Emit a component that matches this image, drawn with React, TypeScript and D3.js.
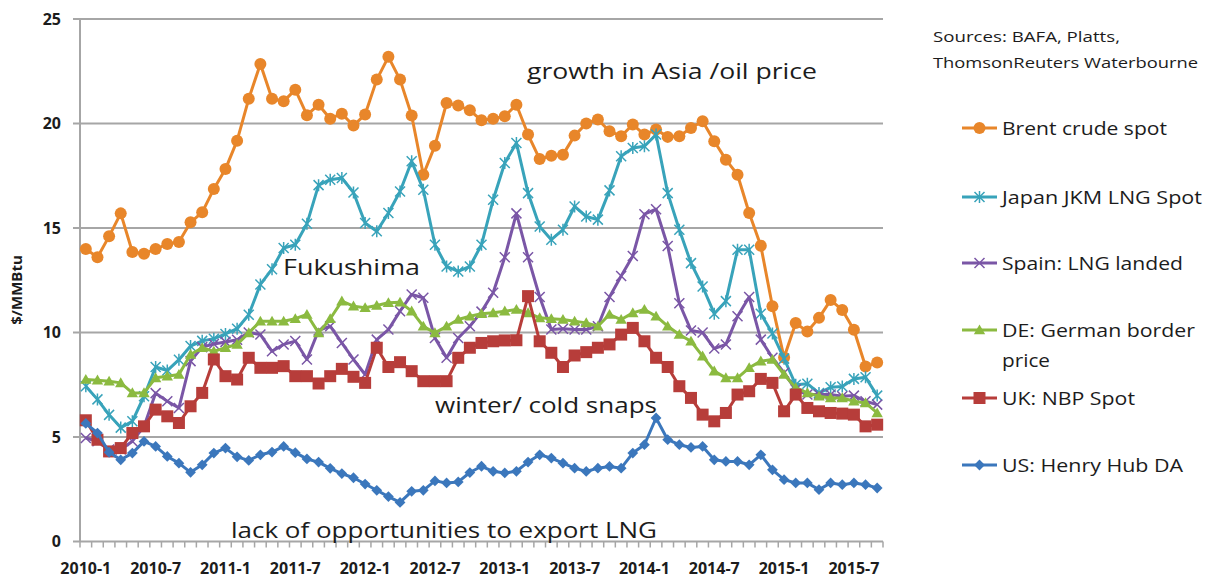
import React from 'react';
import * as d3 from 'd3';

// monthly categories 2010-1 .. 2015-9
const years = [2010, 2011, 2012, 2013, 2014, 2015];
const months: string[] = years.flatMap(yr => d3.range(1, 13).map(m => `${yr}-${m}`)).slice(0, 69);
const tickLabels = ['2010-1', '2010-7', '2011-1', '2011-7', '2012-1', '2012-7', '2013-1', '2013-7', '2014-1', '2014-7', '2015-1', '2015-7'];
const yTicks = [0, 5, 10, 15, 20, 25];

const brent = [14.0, 13.6, 14.6, 15.7, 13.85, 13.77, 13.99, 14.23, 14.33, 15.27,
  15.75, 16.87, 17.82, 19.18, 21.18, 22.85, 21.18, 21.06, 21.62, 20.4,
  20.9, 20.23, 20.47, 19.9, 20.43, 22.1, 23.19, 22.1, 20.38, 17.55,
  18.94, 20.98, 20.86, 20.63, 20.15, 20.23, 20.35, 20.9, 19.47, 18.3,
  18.46, 18.51, 19.42, 20.0, 20.19, 19.63, 19.39, 19.95, 19.47, 19.71,
  19.36, 19.39, 19.79, 20.11, 19.15, 18.27, 17.55, 15.72, 14.15, 11.26,
  8.8, 10.45, 10.05, 10.7, 11.55, 11.08, 10.13, 8.37, 8.56];

const jkm = [7.43, 6.8, 6.06, 5.45, 5.75, 6.95, 8.35, 8.18, 8.7, 9.35,
  9.6, 9.7, 9.93, 10.18, 10.85, 12.3, 13.03, 14.04, 14.2, 15.2,
  17.05, 17.31, 17.39, 16.7, 15.24, 14.84, 15.72, 16.75, 18.19, 16.83,
  14.2, 13.16, 12.92, 13.16, 14.2, 16.35, 18.11, 19.07, 16.67, 15.07,
  14.44, 14.92, 16.03, 15.55, 15.4, 16.8, 18.43, 18.83, 18.91, 19.47,
  16.67, 14.92, 13.32, 12.2, 10.9, 11.5, 13.96, 13.96, 10.9, 9.95,
  8.75, 7.5, 7.55, 7.1, 7.38, 7.42, 7.78, 7.86, 6.98];

const spain = [4.95, 4.8, 4.4, 4.4, 4.8, 5.5, 7.1, 6.71, 6.39, 8.63,
  9.3, 9.45, 9.55, 9.65, 10.0, 9.9, 9.1, 9.43, 9.59, 8.71,
  10.1, 10.3, 9.5, 8.71, 7.99, 9.66, 10.14, 11.02, 11.82, 11.66,
  9.74, 8.79, 9.74, 10.3, 11.0, 11.9, 13.6, 15.7, 13.6, 11.7,
  10.14, 10.18, 10.14, 10.14, 10.3, 11.7, 12.7, 13.66, 15.66, 15.9,
  14.14, 11.4, 10.1, 10.0, 9.23, 9.43, 10.78, 11.7, 9.66, 8.79,
  8.07, 7.27, 7.03, 7.03, 7.03, 6.95, 6.98, 6.71, 6.55];

const german = [7.75, 7.72, 7.67, 7.59, 7.11, 7.11, 7.83, 7.91, 7.99, 8.95,
  9.27, 9.1, 9.27, 9.43, 9.98, 10.54, 10.54, 10.54, 10.66, 10.86,
  9.98, 10.66, 11.5, 11.26, 11.18, 11.29, 11.42, 11.45, 11.02, 10.3,
  9.98, 10.3, 10.62, 10.78, 10.9, 10.94, 11.02, 11.1, 10.94, 10.7,
  10.66, 10.62, 10.54, 10.46, 10.3, 10.86, 10.62, 10.94, 11.1, 10.78,
  10.3, 9.9, 9.58, 8.87, 8.15, 7.83, 7.83, 8.31, 8.63, 8.71,
  7.99, 7.35, 7.11, 6.95, 6.87, 6.87, 6.71, 6.63, 6.15];

const uk = [5.8, 4.87, 4.31, 4.47, 5.19, 5.51, 6.31, 5.99, 5.67, 6.47,
  7.11, 8.71, 7.91, 7.75, 8.79, 8.31, 8.31, 8.39, 7.91, 7.91,
  7.56, 7.91, 8.26, 7.88, 7.59, 9.27, 8.35, 8.58, 8.15, 7.67,
  7.67, 7.67, 8.79, 9.27, 9.5, 9.58, 9.62, 9.63, 11.74, 9.58,
  9.03, 8.35, 8.9, 9.06, 9.27, 9.43, 9.9, 10.22, 9.58, 8.79,
  8.35, 7.43, 6.87, 6.07, 5.75, 6.15, 7.03, 7.19, 7.78, 7.59,
  6.23, 7.03, 6.39, 6.23, 6.15, 6.12, 6.07, 5.51, 5.59];

const us = [5.65, 5.19, 4.27, 3.91, 4.23, 4.79, 4.55, 4.07, 3.75, 3.31,
  3.67, 4.23, 4.47, 4.05, 3.88, 4.15, 4.28, 4.55, 4.25, 3.95,
  3.8, 3.5, 3.25, 3.05, 2.75, 2.45, 2.15, 1.87, 2.4, 2.45,
  2.9, 2.8, 2.85, 3.3, 3.6, 3.36, 3.28, 3.36, 3.8, 4.15,
  3.99, 3.75, 3.51, 3.35, 3.51, 3.59, 3.51, 4.23, 4.63, 5.91,
  4.87, 4.63, 4.5, 4.55, 3.91, 3.83, 3.83, 3.67, 4.15, 3.43,
  2.96, 2.8, 2.8, 2.48, 2.8, 2.72, 2.8, 2.72, 2.56];

const series = [
  { name: 'Brent crude spot', values: brent, color: '#E8862A', marker: 'circle' },
  { name: 'Japan JKM LNG Spot', values: jkm, color: '#38A3BA', marker: 'star' },
  { name: 'Spain: LNG landed', values: spain, color: '#7A56A6', marker: 'x' },
  { name: 'DE: German border|price', values: german, color: '#8BBA40', marker: 'triangle' },
  { name: 'UK: NBP Spot', values: uk, color: '#B73D3A', marker: 'square' },
  { name: 'US: Henry Hub DA', values: us, color: '#3B77BC', marker: 'diamond' },
];

const legendY = [128, 197, 263, 330, 398, 465];
const legendWidths = [165, 200, 181, 193, 133, 181];

const font = '"Open Sans", "DejaVu Sans", sans-serif';
const textColor = '#1c1c1c';
const gridColor = '#A6A6A6';

const triPath = d3.symbol(d3.symbolTriangle, 56)();
const diaPath = d3.symbol(d3.symbolSquare, 58)();

const Marker = ({ type, x, y, color }: { type: string; x: number; y: number; color: string }) => {
  switch (type) {
    case 'circle':
      return <circle cx={x} cy={y} r={6} fill={color} />;
    case 'square':
      return <rect x={x - 6} y={y - 6} width={12} height={12} fill={color} />;
    case 'triangle':
      return <path d={triPath!} transform={`translate(${x},${y + 1})`} fill={color} />;
    case 'diamond':
      return <path d={diaPath!} transform={`translate(${x},${y}) rotate(45)`} fill={color} />;
    case 'x':
      return (
        <path d={`M${x - 5},${y - 5}L${x + 5},${y + 5}M${x - 5},${y + 5}L${x + 5},${y - 5}`}
          stroke={color} strokeWidth={1.5} fill="none" />
      );
    default:
      return (
        <path d={`M${x - 5},${y - 5}L${x + 5},${y + 5}M${x - 5},${y + 5}L${x + 5},${y - 5}M${x},${y - 6}L${x},${y + 6}`}
          stroke={color} strokeWidth={1.5} fill="none" />
      );
  }
};

const App = () => {
  const x = d3.scaleBand<string>().domain(months).range([80, 883]).padding(0);
  const cx = (m: string) => (x(m) as number) + x.bandwidth() / 2;
  const y = d3.scaleLinear().domain([0, 25]).range([541.5, 19]);

  const line = d3.line<number>()
    .x((_, i) => cx(months[i]))
    .y(d => y(d));

  return (
    <svg width={1214} height={578} style={{ position: 'absolute', left: 0, top: 0, background: '#fff' }}>
      {/* grid */}
      {yTicks.filter(t => t > 0).map(t => (
        <line key={t} x1={73} x2={883} y1={y(t)} y2={y(t)} stroke={gridColor} strokeWidth={2} />
      ))}
      {/* axes */}
      <line x1={80} x2={80} y1={y(25)} y2={y(0)} stroke={gridColor} strokeWidth={2} />
      <line x1={73} x2={883} y1={y(0)} y2={y(0)} stroke={gridColor} strokeWidth={2} />
      {months.map(m => (
        <line key={m} x1={(x(m) as number) + x.bandwidth()} x2={(x(m) as number) + x.bandwidth()}
          y1={y(0)} y2={y(0) + 6} stroke={gridColor} strokeWidth={1.5} />
      ))}
      <line x1={80} x2={80} y1={y(0)} y2={y(0) + 6} stroke={gridColor} strokeWidth={1.5} />
      {yTicks.map(t => (
        <text key={t} x={61} y={y(t)} dy="0.36em" textAnchor="end" fontFamily={font} fontWeight="bold"
          fontSize={16} fill={textColor}>{t}</text>
      ))}
      {tickLabels.map(l => (
        <text key={l} x={cx(l)} y={574} textAnchor="middle" fontFamily={font} fontWeight="bold"
          fontSize={16} fill={textColor}>{l}</text>
      ))}
      <text transform="translate(22,290) rotate(-90)" textAnchor="middle" fontFamily={font} fontWeight="bold"
        fontSize={15} fill={textColor}>$/MMBtu</text>

      {/* series */}
      {series.map(s => (
        <g key={s.name}>
          <path d={line(s.values)!} fill="none" stroke={s.color} strokeWidth={3} strokeLinejoin="round" />
          {s.values.map((v, i) => (
            <Marker key={i} type={s.marker} x={cx(months[i])} y={y(v)} color={s.color} />
          ))}
        </g>
      ))}

      {/* annotations */}
      <g fontFamily={font} fontSize={22} fill={textColor}>
        <text x={527} y={79} textLength={290} lengthAdjust="spacingAndGlyphs">growth in Asia /oil price</text>
        <text x={283} y={275} textLength={137} lengthAdjust="spacingAndGlyphs">Fukushima</text>
        <text x={435} y={413} textLength={222} lengthAdjust="spacingAndGlyphs">winter/ cold snaps</text>
        <text x={231} y={538} textLength={426} lengthAdjust="spacingAndGlyphs">lack of opportunities to export LNG</text>
      </g>

      {/* sources */}
      <g fontFamily={font} fontSize={15} fill={textColor}>
        <text x={933} y={42} textLength={187} lengthAdjust="spacingAndGlyphs">Sources: BAFA, Platts,</text>
        <text x={933} y={68} textLength={265} lengthAdjust="spacingAndGlyphs">ThomsonReuters Waterbourne</text>
      </g>

      {/* legend */}
      {series.map((s, i) => {
        const ly = legendY[i];
        const parts = s.name.split('|');
        return (
          <g key={s.name}>
            <line x1={962} x2={997} y1={ly} y2={ly} stroke={s.color} strokeWidth={3} />
            <Marker type={s.marker} x={979.5} y={ly} color={s.color} />
            <text x={1002} y={ly} dy="0.36em" fontFamily={font} fontSize={19} fill={textColor}
              textLength={legendWidths[i]} lengthAdjust="spacingAndGlyphs">{parts[0]}</text>
            {parts[1] && (
              <text x={1002} y={ly + 30} dy="0.36em" fontFamily={font} fontSize={19} fill={textColor}
                textLength={48} lengthAdjust="spacingAndGlyphs">{parts[1]}</text>
            )}
          </g>
        );
      })}
    </svg>
  );
};

export default App;
